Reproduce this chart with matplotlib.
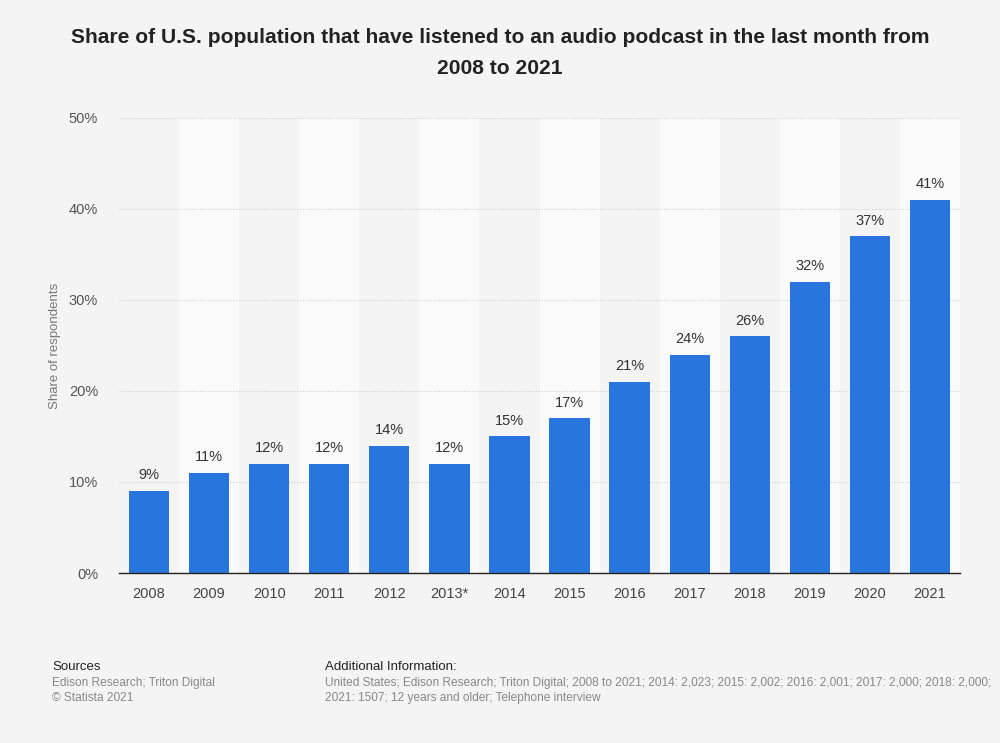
import matplotlib
matplotlib.use("Agg")
import matplotlib.pyplot as plt

years = ["2008", "2009", "2010", "2011", "2012", "2013*", "2014", "2015",
         "2016", "2017", "2018", "2019", "2020", "2021"]
shares = [9, 11, 12, 12, 14, 12, 15, 17, 21, 24, 26, 32, 37, 41]
yticks = [0, 10, 20, 30, 40, 50]

plt.rcParams['font.family'] = ['Liberation Sans', 'DejaVu Sans']

fig = plt.figure(figsize=(10, 7.43), dpi=100)
fig.patch.set_facecolor('#f4f4f4')
ax = fig.add_axes([0.119, 0.2288, 0.841, 0.6124])
ax.set_facecolor('#f4f4f4')

x = list(range(len(years)))
for i in x:
    if i % 2 == 1:
        ax.axvspan(i - 0.5, i + 0.5, color='#fafafa', zorder=0, lw=0)

for t in yticks[1:]:
    ax.axhline(t, color='#cccccc', lw=0.8, ls=(0, (1, 1.5)), zorder=1)

bars = ax.bar(x, shares, width=0.67, color='#2876dd', zorder=2)
for xi, v in zip(x, shares):
    ax.text(xi, v + 0.95, f"{v}%", ha='center', va='bottom', fontsize=10.5, color='#333333')

ax.set_xlim(-0.5, len(years) - 0.5)
ax.set_ylim(0, 50)
ax.set_yticks(yticks)
ax.set_yticklabels([f"{t}%" for t in yticks], fontsize=10.5, color='#555555')
ax.set_xticks(x)
ax.set_xticklabels(years, fontsize=10.5, color='#444444')
ax.tick_params(axis='x', length=0, pad=10)
ax.tick_params(axis='y', length=0, pad=15)
for s in ['top', 'right', 'left']:
    ax.spines[s].set_visible(False)
ax.spines['bottom'].set_color('#222222')
ax.spines['bottom'].set_linewidth(1)
ax.set_ylabel("Share of respondents", fontsize=9.5, color='#777777')
ax.yaxis.set_label_coords(-0.069, 0.5)

fig.text(0.5, 0.962, "Share of U.S. population that have listened to an audio podcast in the last month from\n2008 to 2021",
         ha='center', va='top', fontsize=15.1, fontweight='bold', color='#222222', linespacing=1.8)

fig.text(0.052, 0.1025, "Sources", fontsize=9.5, color='#222222', va='center')
fig.text(0.052, 0.0805, "Edison Research; Triton Digital", fontsize=8.6, color='#888888', va='center')
fig.text(0.052, 0.0605, "© Statista 2021", fontsize=8.6, color='#888888', va='center')
fig.text(0.325, 0.1025, "Additional Information:", fontsize=9.5, color='#222222', va='center')
fig.text(0.325, 0.0805, "United States; Edison Research; Triton Digital; 2008 to 2021; 2014: 2,023; 2015: 2,002; 2016: 2,001; 2017: 2,000; 2018: 2,000;",
         fontsize=8.6, color='#888888', va='center', clip_on=True)
fig.text(0.325, 0.0605, "2021: 1507; 12 years and older; Telephone interview", fontsize=8.6, color='#888888', va='center')

fig.savefig("out.png", dpi=100, facecolor=fig.get_facecolor())
